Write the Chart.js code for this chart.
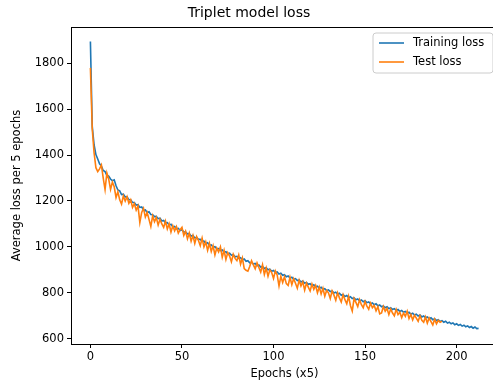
<!DOCTYPE html>
<html>
<head>
<meta charset="utf-8">
<script src="https://cdn.jsdelivr.net/npm/chart.js@4.4.1/dist/chart.umd.min.js"></script>
<style>
  html, body { margin: 0; padding: 0; background: #fff; overflow: hidden; }
  #wrap { width: 493px; height: 386px; overflow: hidden; position: relative; }
  #lossChart { display: block; }
</style>
</head>
<body>
<div id="wrap"><canvas id="lossChart" width="499" height="386" style="width:499px;height:386px"></canvas></div>
<script>
// Tick labels
const xTicks = [0, 50, 100, 150, 200];
const yTicks = [600, 800, 1000, 1200, 1400, 1600, 1800];

// Average training loss per 5 epochs (index = epoch / 5)
const trainLoss = [
  1895, 1525, 1445, 1402, 1383, 1362, 1352, 1333, 1328, 1312,
  1308, 1296, 1288, 1292, 1266, 1248, 1244, 1228, 1230, 1218,
  1218, 1206, 1205, 1194, 1193, 1182, 1184, 1172, 1174, 1160,
  1161, 1150, 1153, 1141, 1140, 1132, 1133, 1123, 1125, 1113,
  1115, 1105, 1106, 1095, 1099, 1087, 1089, 1079, 1081, 1071,
  1075, 1065, 1065, 1057, 1058, 1047, 1050, 1039, 1041, 1033,
  1033, 1025, 1025, 1015, 1018, 1007, 1009, 999, 1001, 992,
  993, 984, 987, 977, 979, 970, 973, 964, 966, 957,
  959, 950, 953, 944, 947, 937, 940, 931, 933, 925,
  928, 918, 921, 912, 915, 906, 909, 900, 903, 894,
  897, 888, 891, 882, 885, 876, 879, 870, 873, 864,
  868, 859, 862, 853, 856, 847, 851, 842, 845, 837,
  840, 831, 835, 826, 829, 820, 824, 815, 818, 810,
  813, 805, 808, 799, 803, 794, 798, 789, 793, 784,
  788, 779, 783, 775, 778, 770, 773, 765, 769, 761,
  765, 757, 760, 752, 756, 748, 752, 743, 747, 739,
  743, 735, 739, 731, 735, 727, 731, 723, 727, 719,
  723, 715, 719, 711, 715, 707, 711, 703, 707, 699,
  703, 695, 699, 691, 695, 687, 691, 683, 687, 679,
  683, 675, 679, 672, 676, 668, 672, 665, 669, 661,
  665, 658, 662, 655, 659, 652, 656, 649, 653, 646,
  651, 644, 645
];

// Average test loss per 5 epochs
const testLoss = [
  1780, 1515, 1410, 1345, 1328, 1340, 1357, 1300, 1250, 1322,
  1295, 1250, 1282, 1262, 1215, 1240, 1205, 1186, 1222, 1200,
  1219, 1190, 1205, 1172, 1188, 1160, 1178, 1106, 1150, 1168,
  1130, 1150, 1120, 1089, 1135, 1110, 1128, 1095, 1120, 1100,
  1085, 1112, 1078, 1100, 1065, 1092, 1070, 1088, 1060, 1075,
  1085, 1050, 1068, 1035, 1060, 1025, 1050, 1015, 1045, 1028,
  1005, 1038, 1000, 1022, 985, 1015, 980, 1005, 965, 995,
  978, 1000, 955, 985, 945, 975, 960, 935, 968, 950,
  940, 965, 925, 952, 905, 898, 894, 915, 940, 922,
  905, 930, 910, 890, 922, 880, 908, 872, 900, 888,
  862, 895, 878, 830, 872, 845, 870, 840, 832, 868,
  835, 862, 842, 820, 855, 830, 848, 812, 842, 825,
  808, 838, 815, 832, 800, 825, 795, 820, 785, 810,
  800, 775, 808, 790, 768, 800, 778, 760, 792, 770,
  752, 785, 745, 721, 775, 758, 740, 770, 748, 735,
  762, 742, 728, 755, 735, 745, 722, 740, 708, 712,
  740, 720, 732, 705, 730, 712, 700, 728, 705, 715,
  692, 712, 698, 720, 688, 706, 682, 702, 690, 676,
  700, 680, 672, 695, 668, 690, 675, 660, 685, 665,
  680, 672, 676
];

const BLUE = '#1f77b4';
const ORANGE = '#ff7f0e';
const FONT = 'DejaVu Sans';

const toPoints = arr => arr.map((v, i) => ({ x: i, y: v }));

// Frame on all four sides + matplotlib style legend box
const framePlugin = {
  id: 'frame',
  afterDraw(chart) {
    const { ctx, chartArea: a } = chart;
    ctx.save();
    ctx.strokeStyle = '#000';
    ctx.lineWidth = 1;
    ctx.strokeRect(Math.round(a.left) + 0.5, Math.round(a.top) + 0.5,
                   Math.round(a.right - a.left), Math.round(a.bottom - a.top));

    // legend
    const bx = 373, by = 33, bw = 120, bh = 40, r = 3;
    ctx.fillStyle = 'rgba(255,255,255,0.8)';
    ctx.strokeStyle = '#cccccc';
    ctx.beginPath();
    ctx.moveTo(bx + r, by);
    ctx.lineTo(bx + bw - r, by);
    ctx.quadraticCurveTo(bx + bw, by, bx + bw, by + r);
    ctx.lineTo(bx + bw, by + bh - r);
    ctx.quadraticCurveTo(bx + bw, by + bh, bx + bw - r, by + bh);
    ctx.lineTo(bx + r, by + bh);
    ctx.quadraticCurveTo(bx, by + bh, bx, by + bh - r);
    ctx.lineTo(bx, by + r);
    ctx.quadraticCurveTo(bx, by, bx + r, by);
    ctx.closePath();
    ctx.fill();
    ctx.stroke();

    const items = chart.data.datasets.slice().sort((p, q) => p.legendIndex - q.legendIndex);
    ctx.font = '11.5px "' + FONT + '"';
    ctx.textBaseline = 'middle';
    items.forEach((ds, i) => {
      const y = by + 10 + i * 19;
      ctx.strokeStyle = ds.borderColor;
      ctx.lineWidth = 1.6;
      ctx.beginPath();
      ctx.moveTo(bx + 6, y);
      ctx.lineTo(bx + 31, y);
      ctx.stroke();
      ctx.fillStyle = '#000';
      ctx.fillText(ds.label, bx + 40, y + 0.5);
    });
    ctx.restore();
  }
};

const plainLabel = v => String(v);

new Chart(document.getElementById('lossChart'), {
  type: 'line',
  data: {
    datasets: [
      {
        label: 'Test loss',
        legendIndex: 1,
        data: toPoints(testLoss),
        borderColor: ORANGE,
        borderWidth: 1.6,
        pointRadius: 0,
        tension: 0
      },
      {
        label: 'Training loss',
        legendIndex: 0,
        data: toPoints(trainLoss),
        borderColor: BLUE,
        borderWidth: 1.6,
        pointRadius: 0,
        tension: 0
      }
    ]
  },
  options: {
    responsive: false,
    animation: false,
    layout: { padding: { left: 0, right: 1, top: 0, bottom: 0 } },
    plugins: {
      legend: { display: false },
      tooltip: { enabled: false },
      title: {
        display: true,
        text: 'Triplet model loss',
        color: '#000',
        font: { family: FONT, size: 14, weight: 'normal' },
        padding: { top: 5, bottom: 5.2 }
      }
    },
    scales: {
      x: {
        type: 'linear',
        min: -10.6,
        max: 222.6,
        afterBuildTicks: s => { s.ticks = xTicks.map(v => ({ value: v })); },
        afterFit: s => { s.height = 42; },
        grid: { drawOnChartArea: false, drawTicks: true, tickLength: 4, color: '#000' },
        border: { display: true, color: '#000' },
        ticks: { color: '#000', padding: 2, maxRotation: 0, callback: plainLabel, font: { family: FONT, size: 11.5 } },
        title: {
          display: true, text: 'Epochs (x5)', color: '#000',
          font: { family: FONT, size: 11.5 }, padding: { top: 1, bottom: 5 }
        }
      },
      y: {
        min: 577,
        max: 1958,
        afterBuildTicks: s => { s.ticks = yTicks.map(v => ({ value: v })); },
        afterFit: s => { s.width = 71; },
        grid: { drawOnChartArea: false, drawTicks: true, tickLength: 4, color: '#000' },
        border: { display: true, color: '#000' },
        ticks: { color: '#000', padding: 3, callback: plainLabel, font: { family: FONT, size: 11.5 } },
        title: {
          display: true, text: 'Average loss per 5 epochs', color: '#000',
          font: { family: FONT, size: 11.5 }, padding: { top: 10, bottom: 0 }
        }
      }
    }
  },
  plugins: [framePlugin]
});
</script>
</body>
</html>
